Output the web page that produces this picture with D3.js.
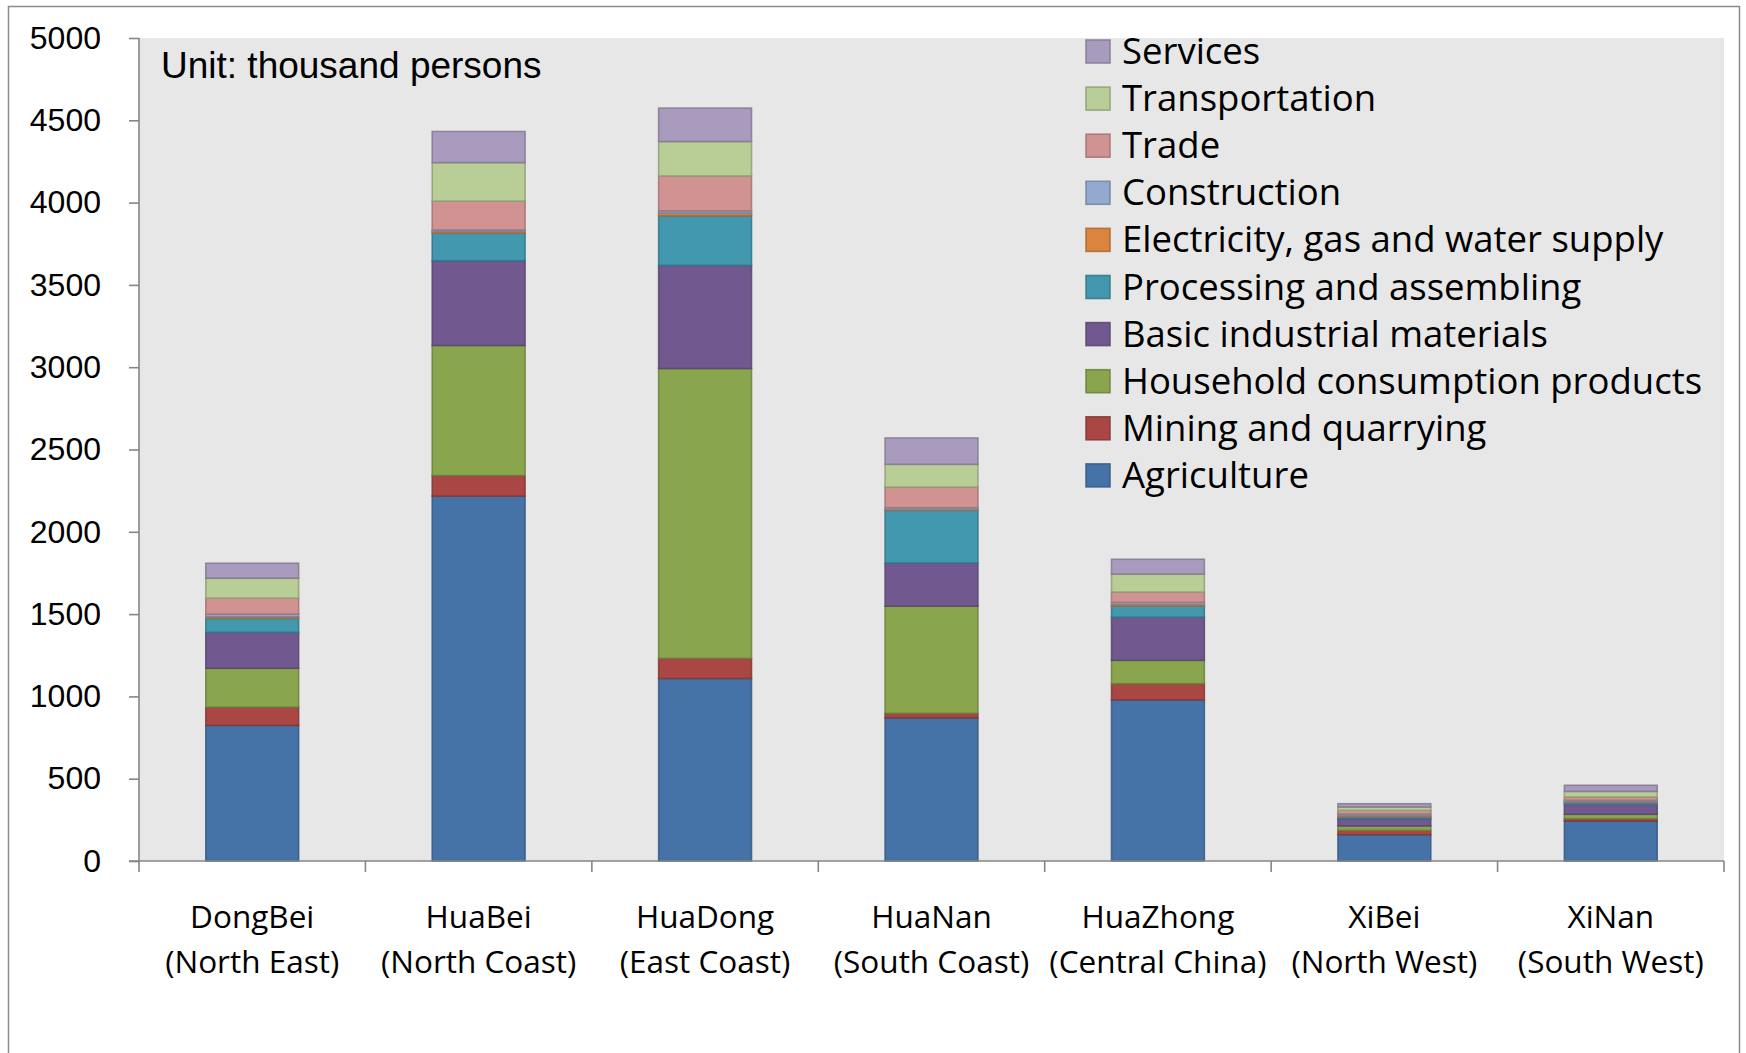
<!DOCTYPE html>
<html>
<head>
<meta charset="utf-8">
<script src="https://cdn.jsdelivr.net/npm/d3@7"></script>
<style>
  html, body { margin: 0; padding: 0; background: #ffffff; }
  svg { display: block; }
</style>
</head>
<body>
<svg id="chart" width="1746" height="1053"></svg>
<script>
// Employment by sector in each Chinese region (thousand persons)
const regions = ["DongBei", "HuaBei", "HuaDong", "HuaNan", "HuaZhong", "XiBei", "XiNan"];
const regionNotes = ["(North East)", "(North Coast)", "(East Coast)", "(South Coast)", "(Central China)", "(North West)", "(South West)"];

const sectors = [
  "Agriculture",
  "Mining and quarrying",
  "Household consumption products",
  "Basic industrial materials",
  "Processing and assembling",
  "Electricity, gas and water supply",
  "Construction",
  "Trade",
  "Transportation",
  "Services"
];
const sectorColors = ["#4572a7", "#aa4643", "#89a54e", "#71588f", "#4198af",
                      "#db843d", "#93a9cf", "#d19392", "#b9cd96", "#a99bbd"];

// one array per sector, ordered as in `regions`
const agriculture   = [824, 2217, 1109, 870, 979, 160, 243];
const mining        = [111,  125,  122,  27,  98,  26,  14];
const household     = [236,  790, 1761, 651, 142,  27,  27];
const basic         = [218,  515,  627, 262, 262,  44,  60];
const processing    = [ 85,  167,  301, 320,  67,  12,  12];
const electricity   = [ 10,   10,   16,   5,  10,   6,   4];
const construction  = [ 16,   10,   14,  12,  13,  10,   9];
const trade         = [ 97,  175,  212, 125,  63,  23,  20];
const transport     = [121,  234,  209, 138, 109,  20,  34];
const services      = [ 91,  189,  203, 160,  90,  20,  37];

const yTicks = [0, 500, 1000, 1500, 2000, 2500, 3000, 3500, 4000, 4500, 5000];
const unitNote = "Unit: thousand persons";

const seriesValues = [agriculture, mining, household, basic, processing,
                      electricity, construction, trade, transport, services];

const table = regions.map((r, i) => {
  const row = { region: r };
  sectors.forEach((s, k) => { row[s] = seriesValues[k][i]; });
  return row;
});

const svg = d3.select("#chart");
const plot = { left: 139, right: 1724, top: 38, bottom: 861 };

// outer chart frame (bottom edge runs past the page)
svg.append("rect")
  .attr("x", 8.5).attr("y", 6.5)
  .attr("width", 1731).attr("height", 1200)
  .attr("fill", "#ffffff")
  .attr("stroke", "#8c8c8c").attr("stroke-width", 1.5);

// plot background
svg.append("rect")
  .attr("x", plot.left).attr("y", plot.top)
  .attr("width", plot.right - plot.left).attr("height", plot.bottom - plot.top)
  .attr("fill", "#e7e7e7");

const x = d3.scaleBand()
  .domain(regions)
  .range([plot.left, plot.right])
  .paddingInner(0.59)
  .paddingOuter(0.295);

const y = d3.scaleLinear().domain([0, 5000]).range([plot.bottom, plot.top]);

const stack = d3.stack().keys(sectors);
const layers = stack(table);

const color = d3.scaleOrdinal().domain(sectors).range(sectorColors);

const gBars = svg.append("g");
gBars.selectAll("g.layer")
  .data(layers)
  .join("g")
  .attr("class", "layer")
  .attr("fill", d => color(d.key))
  .attr("stroke", d => d3.color(color(d.key)).darker(0.7).formatHex())
  .attr("stroke-opacity", 0.85)
  .attr("stroke-width", 1.6)
  .selectAll("rect")
  .data(d => d)
  .join("rect")
  .attr("x", d => x(d.data.region))
  .attr("width", x.bandwidth())
  .attr("y", d => y(d[1]))
  .attr("height", d => Math.max(0, y(d[0]) - y(d[1])));

// y axis
const yAxis = d3.axisLeft(y).tickValues(yTicks).tickSize(10).tickPadding(28).tickFormat(d3.format("d"));
const gy = svg.append("g").attr("transform", `translate(${plot.left},0)`).call(yAxis);
gy.select(".domain").attr("stroke", "#868686").attr("stroke-width", 1.6)
  .attr("d", `M0,${plot.top}V${plot.bottom}`);
gy.selectAll(".tick line").attr("stroke", "#868686").attr("stroke-width", 1.6);
gy.selectAll(".tick text")
  .attr("fill", "#000")
  .style("font-family", "'Liberation Sans', Arial, sans-serif")
  .style("font-size", "32px");

// x axis: category boundary ticks
const bounds = d3.range(regions.length + 1).map(i => plot.left + i * x.step());
svg.append("line")
  .attr("x1", plot.left - 10).attr("x2", plot.right)
  .attr("y1", plot.bottom).attr("y2", plot.bottom)
  .attr("stroke", "#868686").attr("stroke-width", 1.6);
svg.append("g").selectAll("line")
  .data(bounds)
  .join("line")
  .attr("x1", d => d).attr("x2", d => d)
  .attr("y1", plot.bottom).attr("y2", plot.bottom + 11)
  .attr("stroke", "#868686").attr("stroke-width", 1.6);

const catFont = "'Open Sans', 'Noto Sans', sans-serif";
const xLabels = svg.append("g").selectAll("text")
  .data(regions)
  .join("text")
  .attr("text-anchor", "middle")
  .style("font-family", catFont)
  .style("font-size", "31.5px")
  .attr("fill", "#000");
xLabels.append("tspan")
  .attr("x", d => x(d) + x.bandwidth() / 2)
  .attr("y", 928)
  .text(d => d);
xLabels.append("tspan")
  .attr("x", d => x(d) + x.bandwidth() / 2)
  .attr("y", 973)
  .text((d, i) => regionNotes[i]);

// unit note
svg.append("text")
  .attr("x", 161).attr("y", 78)
  .style("font-family", "'Liberation Sans', Arial, sans-serif")
  .style("font-size", "37px")
  .attr("fill", "#000")
  .text(unitNote);

// legend, top entry first
const legendItems = sectors.slice().reverse();
const legend = svg.append("g").attr("transform", "translate(1086,0)");
const li = legend.selectAll("g")
  .data(legendItems)
  .join("g")
  .attr("transform", (d, i) => `translate(0,${40 + i * 47.1})`);
li.append("rect")
  .attr("x", 0).attr("y", 0)
  .attr("width", 24).attr("height", 23)
  .attr("fill", d => color(d))
  .attr("stroke", d => d3.color(color(d)).darker(0.7).formatHex())
  .attr("stroke-opacity", 0.85)
  .attr("stroke-width", 1.6);
li.append("text")
  .attr("x", 36).attr("y", 24)
  .style("font-family", catFont)
  .style("font-size", "36.5px")
  .attr("fill", "#000")
  .text(d => d);
</script>
</body>
</html>
